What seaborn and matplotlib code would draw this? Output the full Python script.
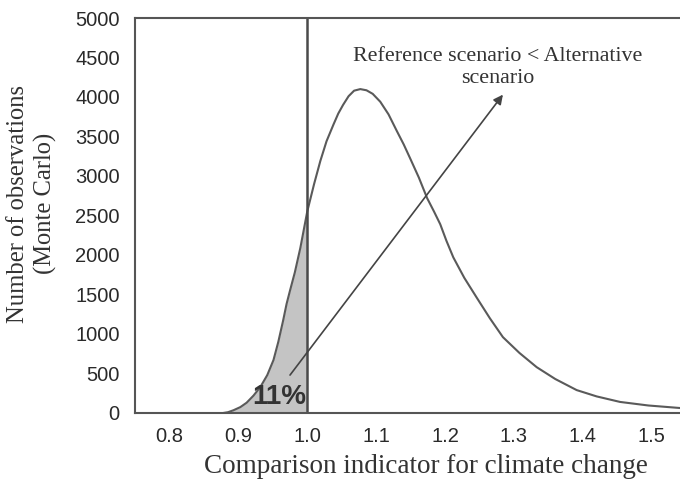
import matplotlib
matplotlib.use("Agg")
import matplotlib.pyplot as plt
import seaborn as sns
import pandas as pd

# Monte Carlo distribution of the comparison indicator
indicator = [0.878, 0.885, 0.893, 0.903, 0.912, 0.922, 0.932, 0.942, 0.951, 0.958,
             0.965, 0.970, 0.975, 0.982, 0.990, 0.995, 1.000, 1.010, 1.019, 1.028,
             1.038, 1.045, 1.052, 1.060, 1.068, 1.077, 1.086, 1.095, 1.106, 1.118,
             1.130, 1.140, 1.149, 1.162, 1.174, 1.184, 1.193, 1.202, 1.212, 1.228,
             1.246, 1.265, 1.284, 1.308, 1.333, 1.360, 1.391, 1.420, 1.454, 1.495,
             1.541]
observations = [0, 10, 35, 75, 130, 220, 330, 480, 670, 900,
                1170, 1380, 1550, 1780, 2090, 2320, 2550, 2900, 3190, 3440,
                3650, 3790, 3900, 4010, 4080, 4100, 4085, 4040, 3940, 3780,
                3570, 3400, 3230, 2980, 2720, 2550, 2390, 2180, 1970, 1710,
                1460, 1200, 960, 760, 580, 430, 290, 210, 140, 95,
                63]

threshold = 1.0
share_below = "11%"
x_ticks = [0.8, 0.9, 1.0, 1.1, 1.2, 1.3, 1.4, 1.5]
y_ticks = [0, 500, 1000, 1500, 2000, 2500, 3000, 3500, 4000, 4500, 5000]

df = pd.DataFrame({"indicator": indicator, "observations": observations})

sns.set_style("white")
plt.rcParams["font.family"] = ["Liberation Sans", "DejaVu Sans"]

fig = plt.figure(figsize=(6.8, 4.8), dpi=100)
ax = fig.add_axes([0.1985, 0.1396, 0.8015, 0.8229])

line_col = "#5a5a5a"
sns.lineplot(data=df, x="indicator", y="observations", ax=ax,
             color=line_col, lw=1.5, sort=False)

below = df[df["indicator"] <= threshold]
ax.fill_between(below["indicator"], 0, below["observations"],
                color="#c4c4c4", lw=0)
ax.axvline(threshold, color="#4a4a4a", lw=1.8)

ax.set_xlim(0.75, 1.541)
ax.set_ylim(0, 5000)
ax.set_xticks(x_ticks)
ax.set_xticklabels([f"{v:.1f}" for v in x_ticks])
ax.set_yticks(y_ticks)
ax.tick_params(direction="in", length=3, width=1, color="#555555",
               labelsize=14.5, labelcolor="#2a2a2a")
ax.tick_params(axis="x", pad=10)
ax.tick_params(axis="y", pad=11)

for side in ["left", "bottom", "top"]:
    ax.spines[side].set_color("#555555")
    ax.spines[side].set_linewidth(1.5)
ax.spines["right"].set_visible(False)

serif = ["Liberation Serif", "DejaVu Serif"]
ax.set_xlabel("Comparison indicator for climate change", family=serif,
              fontsize=19.5, color="#333333")
ax.xaxis.set_label_coords(0.534, -0.104)
ax.set_ylabel("Number of observations\n(Monte Carlo)", family=serif,
              fontsize=17.7, color="#333333", linespacing=1.3)
ax.yaxis.set_label_coords(-0.143, 0.53)

ax.annotate("", xy=(1.284, 4030), xytext=(0.975, 480),
            arrowprops=dict(arrowstyle="-|>", color="#444444", lw=1.2,
                            mutation_scale=14, shrinkA=0, shrinkB=0))
ax.text(1.277, 4370, "Reference scenario < Alternative\nscenario",
        family=serif, fontsize=15.8, color="#333333", ha="center",
        va="center", linespacing=1.2)
ax.text(0.959, 200, share_below, fontsize=20, fontweight="bold",
        color="#333333", ha="center", va="center")

fig.savefig("out.png", dpi=100)
